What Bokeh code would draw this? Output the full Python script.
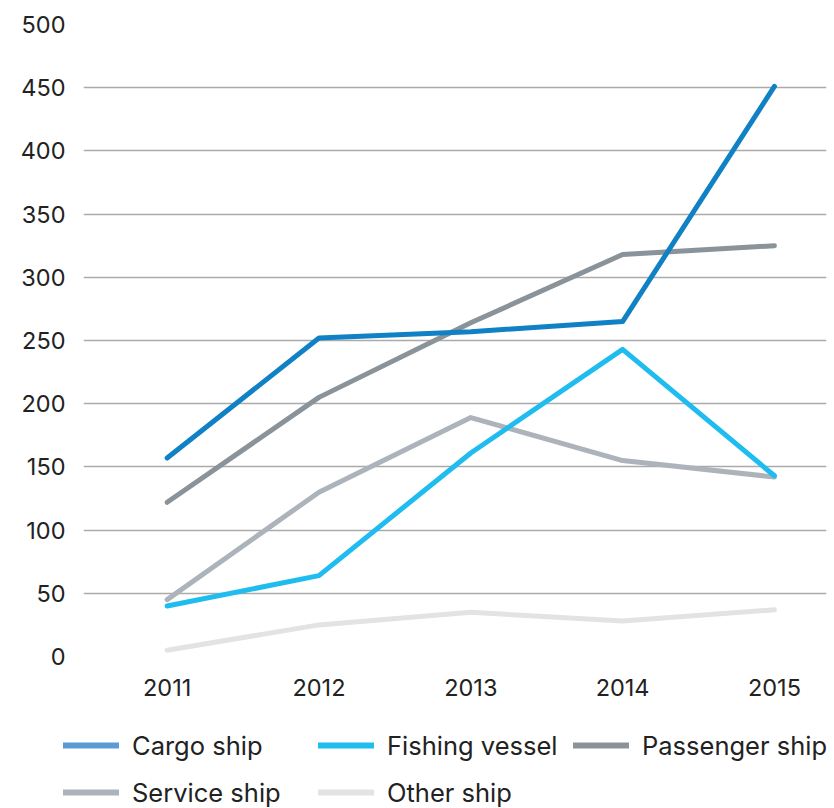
from bokeh.plotting import figure
from bokeh.layouts import column
from bokeh.models import Legend, LegendItem, FixedTicker, Range1d
from bokeh.embed import file_html
from bokeh.resources import INLINE

years = [2011, 2012, 2013, 2014, 2015]
cargo = [157, 252, 257, 265, 451]
fishing = [40, 64, 161, 243, 143]
passenger = [122, 205, 264, 318, 325]
service = [45, 130, 189, 155, 142]
other = [5, 25, 35, 28, 37]
y_ticks = [0, 50, 100, 150, 200, 250, 300, 350, 400, 450, 500]

series = [
    ("Cargo ship", cargo, "#1181c5", "#5b9bd5"),
    ("Fishing vessel", fishing, "#1ebcef", "#1ebcef"),
    ("Passenger ship", passenger, "#8a9399", "#8a9399"),
    ("Service ship", service, "#acb3ba", "#acb3ba"),
    ("Other ship", other, "#e3e3e3", "#e3e3e3"),
]

FONT = "Inter"
TXT = "#222222"

p = figure(width=834, height=712, output_backend="svg", toolbar_location=None,
           x_range=Range1d(2010.449, 2015.343), y_range=Range1d(0, 500),
           min_border_left=83, min_border_right=8, min_border_top=24,
           min_border_bottom=56, frame_align=False)
p.outline_line_color = None
p.xgrid.grid_line_color = None
p.ygrid.grid_line_color = "#aaaaaa"
p.ygrid.grid_line_width = 1.5
p.yaxis.ticker = FixedTicker(ticks=y_ticks)
p.xaxis.ticker = FixedTicker(ticks=years)
for ax in (p.xaxis, p.yaxis):
    ax.axis_line_color = None
    ax.major_tick_line_color = None
    ax.minor_tick_line_color = None
    ax.major_label_text_font = FONT
    ax.major_label_text_font_size = "23.5px"
    ax.major_label_text_color = TXT
p.yaxis.major_label_standoff = 12
p.xaxis.major_label_standoff = 16

for i in [4, 3, 2, 1, 0]:
    name, vals, col, lcol = series[i]
    p.line(years, vals, line_color=col, line_width=5, line_cap="round", line_join="round")

# legend panel below the chart (its own lines lie outside its visible range)
lg = figure(width=834, height=96, output_backend="svg", toolbar_location=None,
            x_range=Range1d(0, 1), y_range=Range1d(0, 1),
            min_border_left=0, min_border_right=0, min_border_top=0,
            min_border_bottom=0, x_axis_location=None, y_axis_location=None,
            frame_align=False)
lg.outline_line_color = None
lg.xgrid.visible = False
lg.ygrid.visible = False
items = []
for name, vals, col, lcol in series:
    r = lg.line(years, vals, line_color=lcol, line_width=6, line_cap="round")
    items.append(LegendItem(label=name, renderers=[r]))

legend = Legend(items=items, ncols=3, orientation="horizontal", location=(63, 0),
                glyph_width=56, glyph_height=32, label_standoff=13,
                label_width=171, label_height=32, spacing=15,
                padding=0, margin=0, border_line_color=None,
                label_text_font=FONT, label_text_font_size="25.5px",
                label_text_color=TXT, background_fill_alpha=0)
lg.add_layout(legend, "center")

open("out.html", "w").write(file_html(column(p, lg, spacing=0), INLINE))
